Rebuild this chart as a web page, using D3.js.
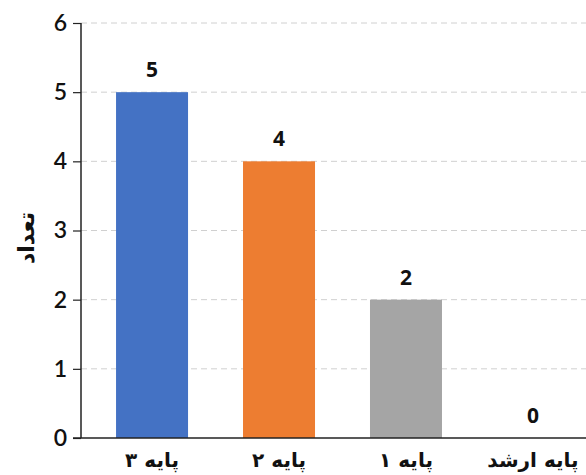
<!DOCTYPE html>
<html><head><meta charset="utf-8">
<script src="https://cdn.jsdelivr.net/npm/d3@7"></script>
<style>
html,body{margin:0;padding:0;background:#fff;}
svg{display:block;}
</style></head>
<body>
<script>
const categories = ["پایه ۳", "پایه ۲", "پایه ۱", "پایه ارشد"];
const values = [5, 4, 2, 0];
const colors = ["#4472C4", "#ED7D31", "#A5A5A5", "#FFC000"];
const yTicks = [0, 1, 2, 3, 4, 5, 6];
const yTitle = "تعداد";

const W = 586, H = 475;
const svg = d3.select("body").append("svg").attr("width", W).attr("height", H);

const x = d3.scaleBand().domain(categories).range([81, 604]).paddingInner(0.433).paddingOuter(0.276);
const y = d3.scaleLinear().domain([0, 6]).range([438, 23]);

// gridlines
svg.append("g").selectAll("line").data(yTicks.filter(d => d > 0)).join("line")
  .attr("x1", 81).attr("x2", W).attr("y1", d => y(d)).attr("y2", d => y(d))
  .attr("stroke", "#d0d0d0").attr("stroke-width", 1).attr("stroke-dasharray", "6,4");

// bars
svg.append("g").selectAll("rect").data(values).join("rect")
  .attr("x", (d, i) => x(categories[i])).attr("width", x.bandwidth())
  .attr("y", d => y(d)).attr("height", d => y(0) - y(d))
  .attr("fill", (d, i) => colors[i]);

// value labels
svg.append("g").selectAll("text").data(values).join("text")
  .attr("x", (d, i) => x(categories[i]) + x.bandwidth() / 2)
  .attr("y", d => y(d) - 15)
  .attr("text-anchor", "middle")
  .attr("font-family", "'Open Sans', 'Liberation Sans', sans-serif")
  .attr("font-weight", 700).attr("font-size", 21).attr("fill", "#111")
  .text(d => d);

// y axis
const yAxis = d3.axisLeft(y).tickValues(yTicks).tickSize(8).tickPadding(6).tickFormat(d3.format("d"));
const ga = svg.append("g").attr("transform", "translate(81,0)").call(yAxis);
ga.select(".domain").attr("stroke", "#222").attr("stroke-width", 1.5).attr("d", "M0,23V438");
ga.selectAll(".tick line").attr("stroke", "#222").attr("stroke-width", 1.2);
ga.selectAll(".tick text").attr("font-family", "Lato, 'Liberation Sans', sans-serif")
  .attr("font-size", 23).attr("font-weight", 600).attr("fill", "#111");

// x axis
const xAxis = d3.axisBottom(x).tickSize(0).tickPadding(15);
const gx = svg.append("g").attr("transform", "translate(0,438)").call(xAxis);
gx.select(".domain").remove();
gx.append("line").attr("x1", 73).attr("x2", W).attr("y1", 0).attr("y2", 0)
  .attr("stroke", "#222").attr("stroke-width", 1.5);
gx.selectAll(".tick text").attr("font-family", "'DejaVu Sans', sans-serif")
  .attr("font-size", 20).attr("font-weight", 700).attr("fill", "#111").attr("direction", "rtl");

// y title
svg.append("text").attr("transform", "translate(28,238) rotate(-90)")
  .attr("text-anchor", "middle").attr("dominant-baseline", "middle")
  .attr("font-family", "'DejaVu Sans', sans-serif").attr("font-size", 22).attr("font-weight", 700)
  .attr("fill", "#111").text(yTitle);
</script>
</body></html>
